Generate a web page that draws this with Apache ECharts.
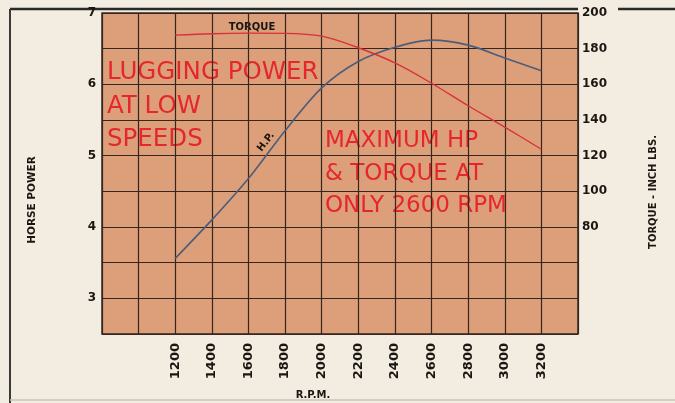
<!DOCTYPE html>
<html>
<head>
<meta charset="utf-8">
<script src="https://cdn.jsdelivr.net/npm/echarts@6/dist/echarts.min.js"></script>
<style>
    html, body { margin: 0; padding: 0; background: #f3ece0; }
    #chart { width: 675px; height: 403px; }
</style>
</head>
<body>
<div id="chart"></div>
<script>
// 转速 / 马力 / 扭矩
var rpm = [1200, 1400, 1600, 1800, 2000, 2200, 2400, 2600, 2800, 3000, 3200];
var hp = [3.56, 4.1, 4.68, 5.35, 5.95, 6.32, 6.52, 6.62, 6.55, 6.37, 6.19];
var torque = [187.6, 188.4, 188.7, 188.6, 187, 180.5, 172, 160.6, 148, 136, 123.6];
var hpLabels = [3, 4, 5, 6, 7];
var torqueLabels = [80, 100, 120, 140, 160, 180, 200];

var inkColor = '#35271e';
var redText = '#e5262c';
var font = 'DejaVu Sans';

var myChart = echarts.init(document.getElementById('chart'));

function pairs(ys) {
    var out = [];
    for (var i = 0; i < rpm.length; i++) {
        out.push([rpm[i], ys[i]]);
    }
    return out;
}

var option = {
    backgroundColor: '#f3ece0',
    animation: false,
    grid: {
        left: 102,
        right: 97,
        top: 13,
        bottom: 69,
        show: true,
        backgroundColor: '#dc9f79',
        borderColor: inkColor,
        borderWidth: 1.5
    },
    xAxis: {
        type: 'value',
        min: 800,
        max: 3400,
        interval: 200,
        axisLine: { show: false },
        axisTick: { show: false },
        splitLine: { lineStyle: { color: inkColor, width: 1.2 } },
        axisLabel: {
            rotate: 90,
            margin: 9,
            color: '#1a1612',
            fontFamily: font,
            fontWeight: 'bold',
            fontSize: 13,
            formatter: function (v) {
                return rpm.indexOf(v) >= 0 ? String(v) : '';
            }
        }
    },
    yAxis: [
        {
            type: 'value',
            min: 2.5,
            max: 7,
            interval: 0.5,
            axisLine: { show: false },
            axisTick: { show: false },
            splitLine: { lineStyle: { color: inkColor, width: 1.2 } },
            axisLabel: {
                margin: 6,
                color: '#1a1612',
                fontFamily: font,
                fontWeight: 'bold',
                fontSize: 12,
                formatter: function (v) {
                    return hpLabels.indexOf(v) >= 0 ? String(v) : '';
                }
            }
        },
        {
            type: 'value',
            min: 20,
            max: 200,
            interval: 20,
            position: 'right',
            axisLine: { show: false },
            axisTick: { show: false },
            splitLine: { show: false },
            axisLabel: {
                margin: 4,
                color: '#1a1612',
                fontFamily: font,
                fontWeight: 'bold',
                fontSize: 12,
                formatter: function (v) {
                    return torqueLabels.indexOf(v) >= 0 ? String(v) : '';
                }
            }
        }
    ],
    series: [
        {
            name: 'H.P.',
            type: 'line',
            yAxisIndex: 0,
            smooth: 0.3,
            symbol: 'none',
            lineStyle: { color: '#4b5d7a', width: 1.6 },
            data: pairs(hp)
        },
        {
            name: 'TORQUE',
            type: 'line',
            yAxisIndex: 1,
            smooth: 0.35,
            symbol: 'none',
            lineStyle: { color: '#d8303c', width: 1.4 },
            data: pairs(torque)
        }
    ],
    graphic: [
        // 外框
        { type: 'line', shape: { x1: 10, y1: 9, x2: 578, y2: 9 }, style: { stroke: '#2a2a2a', lineWidth: 2.5 } },
        { type: 'line', shape: { x1: 618, y1: 9, x2: 675, y2: 9 }, style: { stroke: '#2a2a2a', lineWidth: 2.5 } },
        { type: 'line', shape: { x1: 10, y1: 9, x2: 10, y2: 403 }, style: { stroke: '#3a3a3a', lineWidth: 2 } },
        { type: 'line', shape: { x1: 10, y1: 400, x2: 675, y2: 400 }, style: { stroke: '#c9c4bb', lineWidth: 1.5 } },
        // 坐标轴标题
        {
            type: 'text', x: 32, y: 200, rotation: Math.PI / 2,
            style: { text: 'HORSE POWER', fill: '#1a1612', font: 'bold 10.5px "DejaVu Sans"', align: 'center', verticalAlign: 'middle' }
        },
        {
            type: 'text', x: 653, y: 192, rotation: Math.PI / 2,
            style: { text: 'TORQUE - INCH LBS.', fill: '#1a1612', font: 'bold 10px "DejaVu Sans"', align: 'center', verticalAlign: 'middle' }
        },
        {
            type: 'text', x: 313, y: 395,
            style: { text: 'R.P.M.', fill: '#1a1612', font: 'bold 10px "DejaVu Sans"', align: 'center', verticalAlign: 'middle' }
        },
        // 曲线标注
        {
            type: 'text', x: 252, y: 27,
            style: { text: 'TORQUE', fill: '#1a1612', font: 'bold 10px "DejaVu Sans"', align: 'center', verticalAlign: 'middle' }
        },
        {
            type: 'text', x: 266, y: 142, rotation: 0.92,
            style: { text: 'H.P.', fill: '#1a1612', font: 'bold 10px "DejaVu Sans"', align: 'center', verticalAlign: 'middle' }
        },
        // 红字说明
        {
            type: 'text', x: 107, y: 56,
            style: { text: 'LUGGING POWER\nAT LOW\nSPEEDS', fill: redText, font: '24.5px "DejaVu Sans"', lineHeight: 33.5 }
        },
        {
            type: 'text', x: 325, y: 125,
            style: { text: 'MAXIMUM HP\n& TORQUE AT\nONLY 2600 RPM', fill: redText, font: '23px "DejaVu Sans"', lineHeight: 32.5 }
        }
    ]
};
myChart.setOption(option, true);
</script>
</body>
</html>
